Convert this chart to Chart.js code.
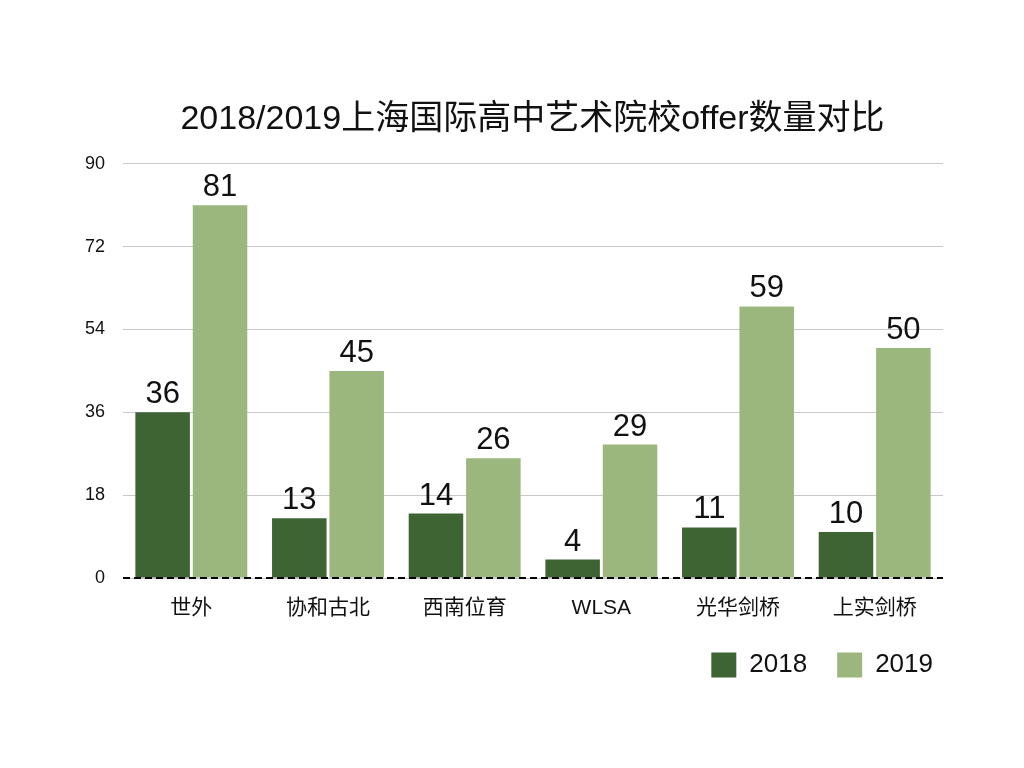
<!DOCTYPE html>
<html>
<head>
<meta charset="utf-8">
<script src="https://cdn.jsdelivr.net/npm/chart.js@4"></script>
<style>
  html, body { margin: 0; padding: 0; background: #fff; }
  #wrap { width: 1024px; height: 768px; }
</style>
</head>
<body>
<div id="wrap"><canvas id="offer-chart" width="1024" height="768"></canvas></div>
<script>
const categories = ["世外", "协和古北", "西南位育", "WLSA", "光华剑桥", "上实剑桥"];
const offers2018 = [36, 13, 14, 4, 11, 10];
const offers2019 = [81, 45, 26, 29, 59, 50];
const yTicks = [0, 18, 36, 54, 72, 90];

const FONT = "'Liberation Sans', 'Noto Sans CJK SC', sans-serif";

// value labels above each bar
const valueLabels = {
	id: "valueLabels",
	afterDatasetsDraw(chart) {
		const ctx = chart.ctx;
		ctx.save();
		ctx.font = "31px " + FONT;
		ctx.fillStyle = "#111";
		ctx.textAlign = "center";
		ctx.textBaseline = "alphabetic";
		chart.data.datasets.forEach((ds, i) => {
			chart.getDatasetMeta(i).data.forEach((bar, j) => {
				ctx.fillText(ds.data[j], bar.x, bar.y - 9);
			});
		});
		ctx.restore();
	},
};

// dashed baseline at zero, nudge legend + title to the right
const baseline = {
	id: "baseline",
	afterLayout(chart) {
		chart.legend.left += 20;
		chart.legend.right += 20;
		chart.titleBlock.left += 31;
		chart.titleBlock.right += 31;
	},
	afterDatasetsDraw(chart) {
		const ctx = chart.ctx;
		const y0 = chart.scales.y.getPixelForValue(0);
		ctx.save();
		ctx.strokeStyle = "#000";
		ctx.lineWidth = 2;
		ctx.setLineDash([7, 4]);
		ctx.beginPath();
		ctx.moveTo(chart.chartArea.left, y0);
		ctx.lineTo(chart.chartArea.right, y0);
		ctx.stroke();
		ctx.restore();
	},
};

const offerCtx = document.getElementById("offer-chart");

new Chart(offerCtx, {
	type: "bar",
	data: {
		labels: categories,
		datasets: [
			{
				label: "2018",
				data: offers2018,
				backgroundColor: "#3f6434",
				borderWidth: 0,
			},
			{
				label: "2019",
				data: offers2019,
				backgroundColor: "#9cb77e",
				borderWidth: 0,
			},
		],
	},
	options: {
		responsive: false,
		animation: false,
		categoryPercentage: 0.84,
		barPercentage: 0.95,
		layout: {
			padding: { left: 60, right: 81, top: 0, bottom: 80 },
		},
		scales: {
			x: {
				grid: { display: false, drawTicks: false },
				border: { display: false },
				ticks: {
					color: "#111",
					padding: 18,
					font: { family: FONT, size: 21 },
				},
				afterFit(scale) {
					scale.height = 44;
				},
			},
			y: {
				min: 0,
				max: 90,
				afterBuildTicks(scale) {
					scale.ticks = yTicks.map((v) => ({ value: v }));
				},
				grid: { color: "#c8c8c8", lineWidth: 1, drawTicks: false },
				border: { display: false },
				ticks: {
					color: "#111",
					padding: 18,
					font: { family: FONT, size: 18 },
				},
				afterFit(scale) {
					scale.width = 63;
				},
			},
		},
		plugins: {
			title: {
				display: true,
				text: "2018/2019上海国际高中艺术院校offer数量对比",
				color: "#111",
				font: { family: FONT, size: 34, weight: "normal" },
				padding: { top: 99, bottom: 24 },
			},
			legend: {
				position: "bottom",
				align: "end",
				labels: {
					boxWidth: 25,
					boxHeight: 25,
					padding: 30,
					color: "#111",
					font: { family: FONT, size: 26 },
				},
			},
			tooltip: { enabled: false },
		},
	},
	plugins: [valueLabels, baseline],
});
</script>
</body>
</html>
